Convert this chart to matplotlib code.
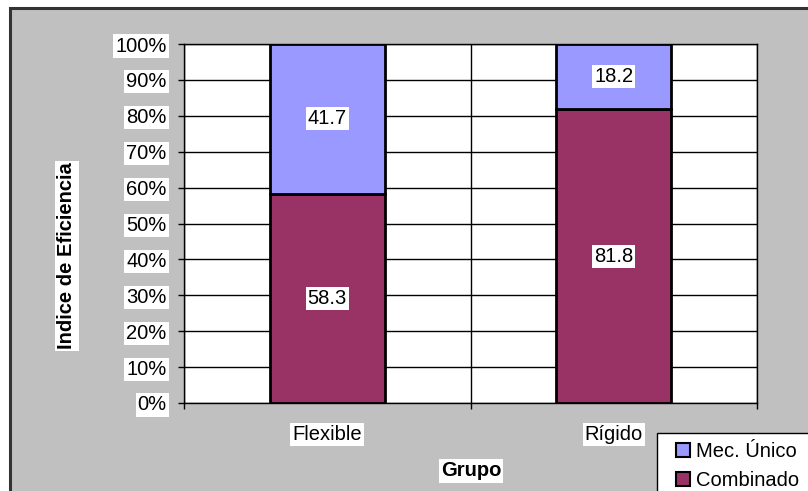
import matplotlib
matplotlib.use("Agg")
import matplotlib.pyplot as plt
from matplotlib.patches import Rectangle, Patch
import numpy as np

plt.rcParams['font.family'] = ['Liberation Sans', 'DejaVu Sans']

# data
grupos = ['Flexible', 'Rígido']
combinado = [58.3, 81.8]
mec_unico = [41.7, 18.2]
series_names = ['Mec. Único', 'Combinado']
yticks = np.arange(0, 101, 10)

col_comb = '#993366'
col_mec = '#9999FF'
fs = 14.5
white_box = dict(facecolor='white', edgecolor='none', pad=1.5)

W, H = 808, 491
fig = plt.figure(figsize=(W / 100, H / 100), dpi=100)
fig.patch.set_facecolor('white')

# gray chart area with dark frame (cut off at right/bottom like the source)
fig.patches.append(Rectangle((10 / W, -0.1), 1.1, 1 - 8 / H + 0.1,
                             transform=fig.transFigure, facecolor='#C0C0C0',
                             edgecolor='#333333', linewidth=2.2, zorder=-2))
# legend box, also running off the edge
fig.patches.append(Rectangle((657 / W, -0.1), 0.5, 0.1 + 1 - 433 / H,
                             transform=fig.transFigure, facecolor='white',
                             edgecolor='black', linewidth=1, zorder=-1))

ax = fig.add_axes([184 / W, 88 / H, 573 / W, 359 / H])
ax.set_facecolor('white')

x = np.arange(len(grupos))
bw = 0.4
ax.bar(x, combinado, bw, color=col_comb, edgecolor='black', linewidth=2, zorder=3)
ax.bar(x, mec_unico, bw, bottom=combinado, color=col_mec, edgecolor='black',
       linewidth=2, zorder=3)

for i in range(len(grupos)):
    ax.text(x[i], combinado[i] / 2, f'{combinado[i]:.1f}', ha='center', va='center',
            fontsize=fs, bbox=white_box, zorder=5)
    ax.text(x[i], combinado[i] + mec_unico[i] / 2, f'{mec_unico[i]:.1f}', ha='center',
            va='center', fontsize=fs, bbox=white_box, zorder=5)

ax.set_xlim(-0.5, len(grupos) - 0.5)
ax.set_ylim(0, 100)
ax.set_yticks(yticks)
ax.set_yticklabels([f'{v}%' for v in yticks])
ax.set_xticks(x)
ax.set_xticklabels(grupos)
ax.set_xticks(np.arange(-0.5, len(grupos), 1), minor=True)

ax.tick_params(axis='y', direction='out', length=4.5, width=1, pad=8, labelsize=fs)
ax.tick_params(axis='x', which='major', length=0, pad=16, labelsize=fs)
ax.tick_params(axis='x', which='minor', direction='out', length=4.5, width=1)
for lab in ax.get_yticklabels() + ax.get_xticklabels():
    lab.set_bbox(white_box)

ax.grid(axis='y', which='major', color='black', linewidth=1, zorder=1)
ax.grid(axis='x', which='minor', color='black', linewidth=1, zorder=1)
ax.set_axisbelow(True)
for s in ax.spines.values():
    s.set_color('black')
    s.set_linewidth(1)

fig.text(67 / W, 1 - 256 / H, 'Indice de Eficiencia', rotation=90, ha='center',
         va='center', fontsize=fs, fontweight='bold', bbox=white_box)
fig.text(471 / W, 1 - 471 / H, 'Grupo', ha='center', va='center', fontsize=fs,
         fontweight='bold', bbox=white_box)

handles = [Patch(facecolor=col_mec, edgecolor='black', linewidth=1.5),
           Patch(facecolor=col_comb, edgecolor='black', linewidth=1.5)]
leg = fig.legend(handles, series_names, loc='upper left',
                 bbox_to_anchor=(676 / W, 1 - 442 / H), fontsize=fs,
                 frameon=False, handlelength=0.7, handleheight=0.7,
                 handletextpad=0.3, labelspacing=0.5, borderpad=0,
                 borderaxespad=0)

fig.savefig('out.png', dpi=100, facecolor=fig.get_facecolor())
